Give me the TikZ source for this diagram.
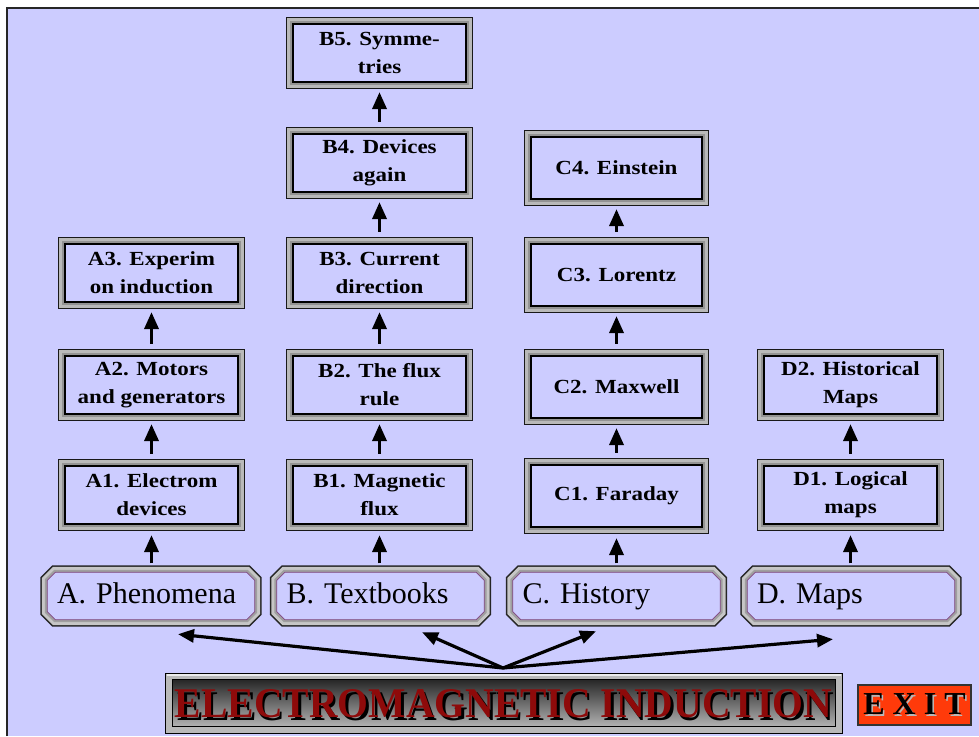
\documentclass[tikz,border=0pt]{standalone}
\usepackage{fontspec}
\setmainfont{Liberation Serif}
\newfontfamily\boxfont[FakeStretch=1.15]{Liberation Serif Bold}
\usetikzlibrary{arrows.meta,calc}
\pgfdeclarelayer{bg}
\pgfdeclarelayer{frame}
\pgfsetlayers{bg,frame,main}
\definecolor{lav}{HTML}{CCCCFF}
\definecolor{titlered}{HTML}{8E0A0A}
\definecolor{exitred}{HTML}{FF3A0A}
\newcommand\ttlword{\resizebox{657pt}{28pt}{\bfseries ELECTROMAGNETIC INDUCTION}}
\newcommand\ttltext{\rlap{\raisebox{-2.5pt}{\hspace{2.5pt}\color{black}\ttlword}}{\color{titlered}\ttlword}}
\newcommand\octagon[1]{%
  \begin{pgfonlayer}{frame}
  \path[btnframe] ([xshift=8pt]#1.north west) -- ([xshift=-8pt]#1.north east)
     -- ([yshift=-8pt]#1.north east) -- ([yshift=8pt]#1.south east)
     -- ([xshift=-8pt]#1.south east) -- ([xshift=8pt]#1.south west)
     -- ([yshift=8pt]#1.south west) -- ([yshift=-8pt]#1.north west) -- cycle;
  \end{pgfonlayer}}
\tikzset{
  colbox/.style={rectangle, minimum width=173pt, minimum height=58pt, inner sep=1pt,
    align=center, font=\boxfont\fontsize{20}{28}\selectfont, fill=lav, draw=black, line width=2.2pt,
    preaction={draw=black!90, line width=14.5pt},
    preaction={draw=gray!55, line width=12pt},
    preaction={draw=gray!85, line width=6.5pt}},
  tallbox/.style={colbox, minimum width=171pt, minimum height=62pt},
  catbtn/.style={rectangle, minimum width=207pt, minimum height=47pt, inner xsep=9.5pt, inner ysep=0pt,
    text width=188pt, text height=21pt, text depth=6pt, align=left, font=\fontsize{30}{34}\selectfont},
  btnframe/.style={fill=lav, draw=gray!55!violet, line width=0.8pt, line join=miter,
    preaction={draw=black!85, line width=14pt},
    preaction={draw=gray!45, line width=11pt},
    preaction={draw=gray!75, line width=5pt}},
  uparrow/.style={line width=3.5pt, -{Triangle[length=17pt,width=14pt]},
    shorten <=11pt, shorten >=9pt},
  fanarrow/.style={line width=3.2pt, -{Triangle[length=16pt,width=13pt]}},
}
\begin{document}
\begin{tikzpicture}[x=1pt,y=-1pt]
\useasboundingbox (0,0) rectangle (979,736);
% background panel
\begin{pgfonlayer}{bg}
\fill[white] (0,0) rectangle (979,736);
\fill[lav] (7,8) rectangle (979,736);
\draw[black!85, line width=2pt] (7,736) -- (7,8) -- (979,8);
\end{pgfonlayer}

% column A
\node[colbox] (a1) at (151.5,495) {A1. Electrom\\devices};
\node[colbox] (a2) at (151.5,385) {A2. Motors\\and generators};
\node[colbox] (a3) at (151.5,273) {A3. Experim\\on induction};
% column B
\node[colbox] (b1) at (379.5,495) {B1. Magnetic\\flux};
\node[colbox] (b2) at (379.5,385) {B2. The flux\\rule};
\node[colbox] (b3) at (379.5,273) {B3. Current\\direction};
\node[colbox] (b4) at (379.5,163) {B4. Devices\\again};
\node[colbox] (b5) at (379.5,53) {B5. Symme-\\tries};
% column C
\node[tallbox] (c1) at (616.5,496) {C1. Faraday};
\node[tallbox] (c2) at (616.5,387) {C2. Maxwell};
\node[tallbox] (c3) at (616.5,275) {C3. Lorentz};
\node[tallbox] (c4) at (616.5,168) {C4. Einstein};
% column D
\node[colbox] (d1) at (850.5,495) {D1. Logical\\maps};
\node[colbox] (d2) at (850.5,385) {D2. Historical\\Maps};

% category buttons
\node[catbtn] (A) at (151,596) {A. Phenomena};
\node[catbtn] (B) at (380.5,596) {B. Textbooks};
\node[catbtn] (C) at (616.5,596) {C. History};
\node[catbtn] (D) at (851,596) {D. Maps};
\octagon{A}\octagon{B}\octagon{C}\octagon{D}

% arrows between boxes
\draw[uparrow] (a1) -- (a2);
\draw[uparrow] (a2) -- (a3);
\draw[uparrow] (b1) -- (b2);
\draw[uparrow] (b2) -- (b3);
\draw[uparrow] (b3) -- (b4);
\draw[uparrow] (b4) -- (b5);
\draw[uparrow] (c1) -- (c2);
\draw[uparrow] (c2) -- (c3);
\draw[uparrow] (c3) -- (c4);
\draw[uparrow] (d1) -- (d2);
% arrows from buttons
\draw[uparrow, shorten <=9pt, shorten >=10pt] (a1.south |- A.north) -- (a1.south);
\draw[uparrow, shorten <=9pt, shorten >=10pt] (b1.south |- B.north) -- (b1.south);
\draw[uparrow, shorten <=9pt, shorten >=10pt] (c1.south |- C.north) -- (c1.south);
\draw[uparrow, shorten <=9pt, shorten >=10pt] (d1.south |- D.north) -- (d1.south);

% fan arrows
\coordinate (fan) at (503,668);
\draw[fanarrow] (fan) -- ([xshift=27pt,yshift=-14.5pt]A.south);
\draw[fanarrow] (fan) -- ([xshift=41.5pt,yshift=-12.5pt]B.south);
\draw[fanarrow] (fan) -- ([xshift=-20.5pt,yshift=-11.5pt]C.south);
\draw[fanarrow] (fan) -- ([xshift=-18pt,yshift=-19.5pt]D.south);

% title bar
\node[draw=black, line width=1pt, fill=gray!55, minimum width=677pt, minimum height=60pt] (title) at (503.5,703) {};
\draw[white!85!gray, line width=2pt] ([xshift=2pt,yshift=-2pt]title.north west) -- ([xshift=-2pt,yshift=-2pt]title.north east);
\node[minimum width=663pt, minimum height=47pt, top color=black!85, bottom color=black!30,
  draw=black, line width=1pt] (titlein) at (title.center) {};
\node[inner sep=0pt] (ttl) at ([yshift=-2pt]title.center) {\ttltext};

% exit button
\node[fill=exitred, draw=black!80, line width=1.5pt, minimum width=113pt, minimum height=40pt,
  inner sep=0pt, font=\bfseries\fontsize{32}{34}\selectfont] (exit) at (914.5,705)
  {\rlap{\raisebox{-1.5pt}{\hspace{1.5pt}\color{gray!55}E X I T}}E X I T};
\end{tikzpicture}
\end{document}
